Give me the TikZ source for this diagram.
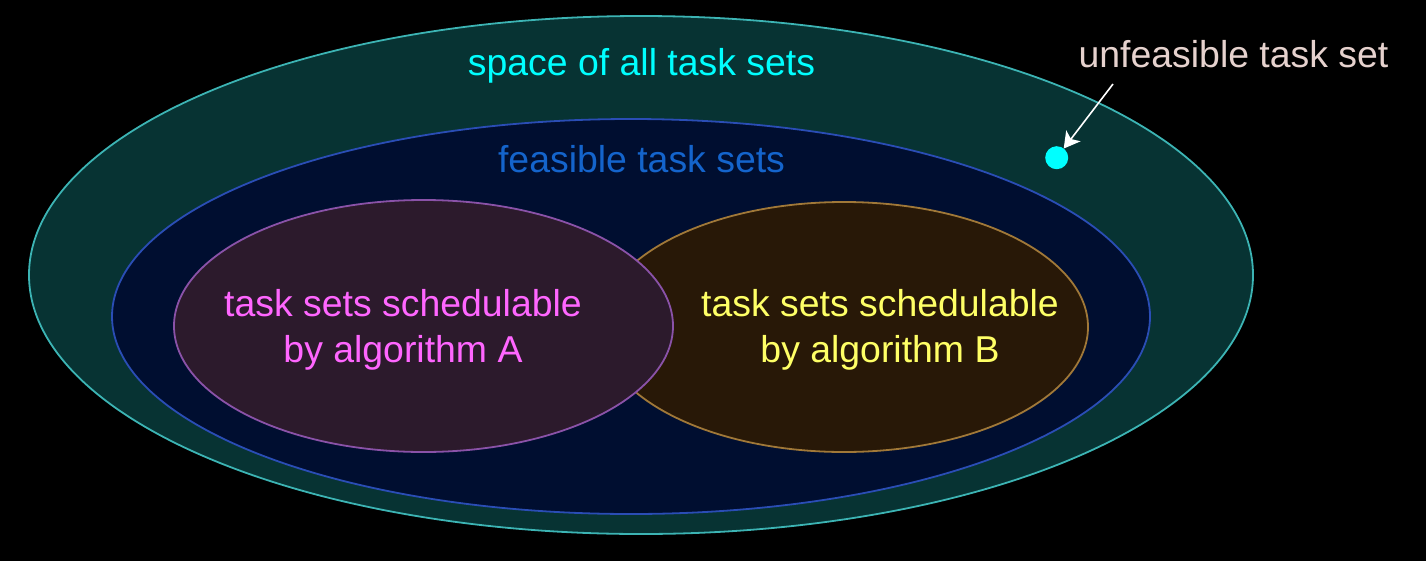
\documentclass[tikz,border=0pt]{standalone}
\usepackage{fontspec}
\setmainfont{Liberation Sans}
\usetikzlibrary{shapes.geometric,arrows.meta}
\definecolor{outerfill}{HTML}{073333}
\definecolor{outerline}{HTML}{3CB4B4}
\definecolor{feasfill}{HTML}{000E30}
\definecolor{feasline}{HTML}{2A4DB5}
\definecolor{afill}{HTML}{2C1A2C}
\definecolor{aline}{HTML}{8A52A8}
\definecolor{bfill}{HTML}{281807}
\definecolor{bline}{HTML}{A07838}
\definecolor{cyantxt}{HTML}{00FFFF}
\definecolor{bluetxt}{HTML}{1464CC}
\definecolor{magtxt}{HTML}{FF66FF}
\definecolor{yeltxt}{HTML}{FFFF66}
\definecolor{pinktxt}{HTML}{E6D2CE}
\tikzset{
  region/.style={ellipse, inner sep=0pt, outer sep=0pt, line width=1.8pt},
  lbl/.style={inner sep=0pt, font=\fontsize{37.4}{46}\selectfont},
}
\begin{document}
\begin{tikzpicture}[x=1pt,y=-1pt]
\useasboundingbox (0,0) rectangle (1426,560);
\fill[black] (-5,-5) rectangle (1431,565);
\node[region, draw=outerline, fill=outerfill, minimum width=1224pt, minimum height=518pt] (all) at (641,275) {};
\node[region, draw=feasline, fill=feasfill, minimum width=1038pt, minimum height=395pt] (feas) at (631,316.5) {};
\node[region, draw=bline, fill=bfill, minimum width=488pt, minimum height=250pt] (algB) at (844,327) {};
\node[region, draw=aline, fill=afill, minimum width=499pt, minimum height=252pt] (algA) at (423.5,326) {};
\node[lbl, text=cyantxt, anchor=base] (tall) at (641.5,75.5) {space of all task sets};
\node[lbl, text=bluetxt, anchor=base] (tfeas) at (641.5,172) {feasible task sets};
\node[lbl, text=magtxt, align=center] (tA) at (403,329.5) {task sets schedulable\\by algorithm A};
\node[lbl, text=yeltxt, align=center] (tB) at (880,329.5) {task sets schedulable\\by algorithm B};
\node[lbl, text=pinktxt, anchor=base] (tunf) at (1233.5,67) {unfeasible task set};
\node[circle, fill=cyantxt, minimum size=23pt, inner sep=0pt, outer sep=0pt] (dot) at (1056.7,157.7) {};
\coordinate (arrstart) at (1113,84);
\draw[white, line width=1.6pt, -{Stealth[length=16pt,width=18pt,inset=4pt]}] (arrstart) -- (dot);
\end{tikzpicture}
\end{document}
